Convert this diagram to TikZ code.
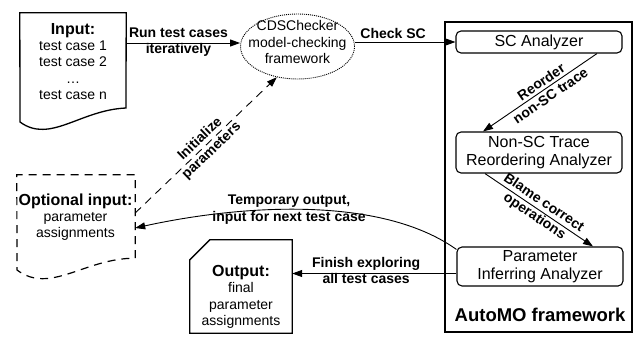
\documentclass[tikz,border=0pt]{standalone}
\usepackage{fontspec}
\setmainfont{Liberation Sans}
\usetikzlibrary{arrows.meta,shapes.geometric,calc}

\tikzset{
  arr/.style={draw, line width=0.9pt, -{Triangle[length=10pt,width=7pt]}},
  lbl/.style={font=\fontsize{14}{16.5}\selectfont\bfseries, align=center, inner sep=0pt},
  txt/.style={font=\fontsize{14}{16.3}\selectfont, align=center, inner sep=0pt},
  head/.style={font=\fontsize{16}{16.3}\selectfont\bfseries},
  box/.style={draw, line width=1.1pt, rounded corners=5pt, minimum width=166pt, inner sep=0pt,
              font=\fontsize{16}{18}\selectfont, align=center},
  shp/.style={line width=1.3pt, line join=miter},
  dsh/.style={dash pattern=on 8pt off 6pt},
  ghost/.style={inner sep=0pt, draw=none},
}

\begin{document}
\begin{tikzpicture}[x=1pt,y=-1pt]
\useasboundingbox (0,0) rectangle (639,337);

% ---------- Input document ----------
\node[ghost, minimum width=106pt, minimum height=118pt] (inpb) at (73,72) {};
\draw[shp] (inpb.north east) -- (126,108) .. controls (80,110) and (50,144) .. (20,122) -- (inpb.north west) -- cycle;
\node[txt] (inp) at (73,61.5) {{\fontsize{16}{16.3}\selectfont\bfseries Input:}\\ test case 1\\ test case 2\\ \dots\\ test case n};

% ---------- CDSChecker ellipse ----------
\node[draw, ellipse, line width=0.9pt, dash pattern=on 1pt off 1pt, minimum width=114pt, minimum height=65pt, inner sep=0pt] (cds) at (297.5,46.5) {};
\node[txt] (cdst) at (297.5,42) {CDSChecker\\model-checking\\framework};

% ---------- AutoMO framework ----------
\node[draw, line width=1.3pt, minimum width=187pt, minimum height=310pt, inner sep=0pt] (auto) at (538.5,177) {};
\node[font=\fontsize{18.5}{20}\selectfont\bfseries, inner sep=0pt] (autol) at (540,315) {AutoMO framework};

\node[box, minimum height=22pt] (sc) at (539,42) {SC Analyzer};
\node[box, minimum height=41pt] (nsc) at (539,152.5) {Non-SC Trace\\Reordering Analyzer};
\node[box, minimum height=39pt] (par) at (540,266.5) {Parameter\\Inferring Analyzer};

% ---------- Optional input (dashed document) ----------
\node[ghost, minimum width=118pt, minimum height=83pt] (opt) at (76,216.5) {};
\draw[shp, line width=1.2pt, dsh] (opt.south east) -- (opt.north east) -- (opt.north west) -- (17,270)
   .. controls (50,295) and (85,258) .. (opt.south east);
\node[txt] (optt) at (75.5,217) {{\fontsize{16}{16}\selectfont\bfseries Optional input:}\\ parameter\\ assignments};

% ---------- Output (chamfered box) ----------
\node[ghost, minimum width=102pt, minimum height=93pt] (outb) at (241,286.5) {};
\draw[shp] (outb.south west) -- ([yshift=-20pt]outb.north west) -- ([xshift=20pt]outb.north west)
   -- (outb.north east) -- (outb.south east) -- cycle;
\node[txt] (outt) at (241,297) {{\fontsize{16}{16.7}\selectfont\bfseries Output:}\\ final\\ parameter\\ assignments};

% ---------- Connectors ----------
\coordinate (inR) at (126,43);
\draw[arr] (inR) -- (cds.west |- inR)
  node[lbl, pos=0.46, yshift=1pt] {Run test cases\\iteratively};

\draw[arr] (cds.east |- sc.west) -- (sc.west)
  node[lbl, pos=0.38, yshift=9pt] {Check SC};

\draw[arr] ([xshift=58pt]sc.south) -- ([xshift=-56pt]nsc.north)
  node[lbl, sloped, pos=0.45] {Reorder\\non-SC trace};

\draw[arr] ([xshift=-54pt]nsc.south) -- ([xshift=53pt]par.north)
  node[lbl, sloped, midway] {Blame correct\\operations};

\coordinate (finR) at ([yshift=-7pt]par.west);
\draw[arr] (finR) -- (outb.east |- finR)
  node[lbl, pos=0.55, yshift=3pt] {Finish exploring\\all test cases};

\draw[arr, dsh] ([yshift=3.5pt]opt.east) -- (cds.-124)
  node[lbl, sloped, midway] {Initialize\\parameters};

\draw[arr] ([yshift=-3pt]par.north west) .. controls (380,195) and (240,205) .. ([yshift=-11.5pt]opt.east)
  node[lbl, pos=0.55] {Temporary output,\\input for next test case};

\end{tikzpicture}
\end{document}
